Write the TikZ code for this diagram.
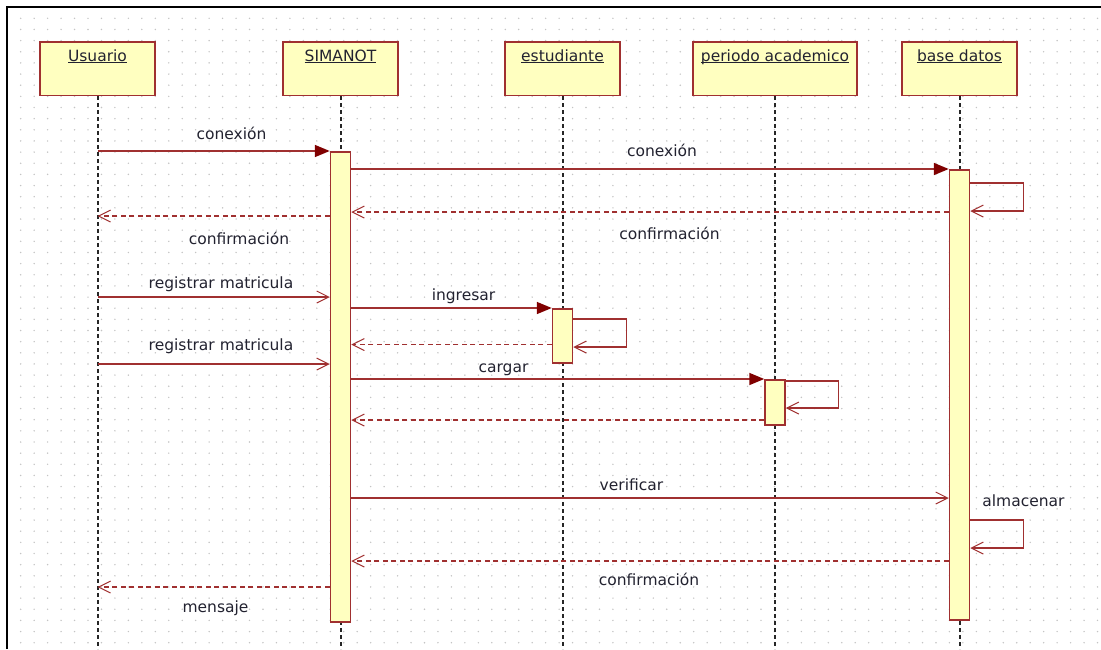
\documentclass[tikz,border=0pt]{standalone}
\usepackage{fontspec}
\setmainfont{DejaVu Sans}
\usetikzlibrary{arrows.meta}

\definecolor{umlred}{RGB}{160,48,48}
\definecolor{umltip}{RGB}{128,0,0}
\definecolor{umlfill}{RGB}{255,255,192}
\definecolor{gridgray}{RGB}{196,196,196}
\definecolor{txt}{RGB}{34,34,48}

% underlined object name, rule drawn just under the baseline
\newcommand{\hdul}[1]{\setbox0\hbox{#1}\rlap{\rule[-1.6pt]{\wd0}{1.1pt}}\box0}

\tikzset{
  lblfont/.style={font=\fontsize{15.5}{18}\selectfont},
  headbox/.style={draw=umlred, fill=umlfill, line width=1.5pt, minimum width=115pt,
    text height=20pt, text depth=33.5pt, inner ysep=0pt, inner xsep=0pt,
    text=txt, lblfont, anchor=north},
  actbar/.style={draw=umlred, fill=umlfill, line width=1.5pt, minimum width=20pt,
    inner sep=0pt, anchor=north},
  lifeline/.style={draw=black!85, line width=2pt, dash pattern=on 4pt off 3pt},
  call/.style={draw=umlred, line width=1.7pt,
    -{Triangle[length=15pt,width=12pt,color=umltip]}},
  async/.style={draw=umlred, line width=1.5pt,
    -{Straight Barb[length=12pt,width=12pt,line width=1pt]}},
  reply/.style={draw=umlred, line width=1.5pt, dash pattern=on 5pt off 3.5pt,
    -{Straight Barb[length=12pt,width=12pt,line width=1pt]}},
  selfloop/.style={draw=umlred, line width=1.3pt,
    -{Straight Barb[length=12pt,width=12pt,line width=1pt]}},
  msglabel/.style={text=txt, lblfont, inner sep=0pt, anchor=base},
}

\begin{document}
\begin{tikzpicture}[x=1pt, y=-1pt]
  \useasboundingbox (0,0) rectangle (1101,649);
  \fill[white] (0,0) rectangle (1101,649);

  % dotted drawing grid
  \foreach \i in {0,...,80}
    \foreach \j in {0,...,56}
      \fill[gridgray] (20.7+13.46*\i, 18.3+11.15*\j) circle (0.8);

  % frame (top and left edges)
  \draw[line width=2.2pt] (7,649) -- (7,7) -- (1101,7);

  % object heads
  \node[headbox] (hU) at (97.5,41)  {\hdul{Usuario}};
  \node[headbox] (hS) at (340.5,41) {\hdul{SIMANOT}};
  \node[headbox] (hE) at (562.5,41) {\hdul{estudiante}};
  \node[headbox, minimum width=164pt] (hP) at (775,41) {\hdul{periodo academico}};
  \node[headbox] (hB) at (959.5,41) {\hdul{base datos}};

  % lifelines
  \foreach \h in {hU,hS,hE,hP,hB}
    \draw[lifeline] (\h.south) -- (\h.south |- 0,649);

  % activation bars
  \node[actbar, minimum height=470pt] (bS) at (hS.south |- 0,151) {};
  \node[actbar, minimum height=450pt] (bB) at (hB.south |- 0,169) {};
  \node[actbar, minimum height=54pt]  (bE) at (hE.south |- 0,308) {};
  \node[actbar, minimum height=45pt]  (bP) at (hP.south |- 0,379) {};

  % messages
  \draw[call] (hU.south |- 0,151) -- (bS.north west);
  \draw[call] (bS.east |- 0,169) -- (bB.north west);
  \draw[selfloop] (bB.east |- 0,183) -- ++(53,0) |- (bB.east |- 0,211);
  \draw[reply] (bB.west |- 0,212) -- (bS.east |- 0,212);
  \draw[reply] (bS.west |- 0,216) -- (hU.south |- 0,216);
  \draw[async] (hU.south |- 0,297) -- (bS.west |- 0,297);
  \draw[call] (bS.east |- 0,308) -- (bE.north west);
  \draw[selfloop] (bE.east |- 0,319) -- ++(53,0) |- (bE.east |- 0,347);
  \draw[reply] (bE.west |- 0,344.5) -- (bS.east |- 0,344.5);
  \draw[async] (hU.south |- 0,364) -- (bS.west |- 0,364);
  \draw[call] (bS.east |- 0,379) -- (bP.north west);
  \draw[selfloop] (bP.east |- 0,381) -- ++(53,0) |- (bP.east |- 0,408);
  \draw[reply] (bP.west |- 0,420) -- (bS.east |- 0,420);
  \draw[async] (bS.east |- 0,498) -- (bB.west |- 0,498);
  \draw[selfloop] (bB.east |- 0,520) -- ++(53,0) |- (bB.east |- 0,548);
  \draw[reply] (bB.west |- 0,561) -- (bS.east |- 0,561);
  \draw[reply] (bS.west |- 0,587) -- (hU.south |- 0,587);

  % message labels
  \node[msglabel] (l1)  at (231.5,139) {conexión};
  \node[msglabel] (l2)  at (662,156)   {conexión};
  \node[msglabel] (l3)  at (669.5,239) {confirmación};
  \node[msglabel] (l4)  at (239,244)   {confirmación};
  \node[msglabel] (l5)  at (221,288.5) {registrar matricula};
  \node[msglabel] (l6)  at (463.5,300) {ingresar};
  \node[msglabel] (l7)  at (221,350.5) {registrar matricula};
  \node[msglabel] (l8)  at (503.5,372) {cargar};
  \node[msglabel] (l9)  at (631.5,490) {verificar};
  \node[msglabel] (l10) at (1023.5,506) {almacenar};
  \node[msglabel] (l11) at (649,585)   {confirmación};
  \node[msglabel] (l12) at (215.5,612) {mensaje};
\end{tikzpicture}
\end{document}
